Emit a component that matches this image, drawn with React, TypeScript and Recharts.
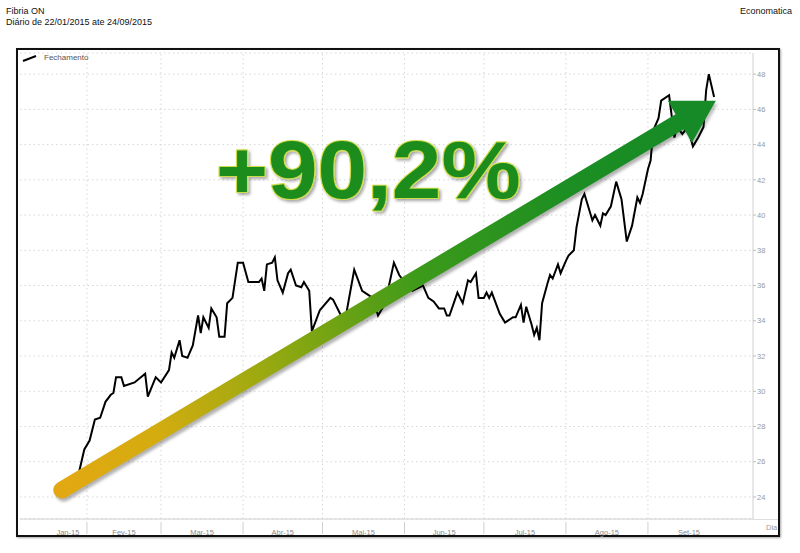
import React from 'react';
import { LineChart, Line, XAxis, YAxis, CartesianGrid, ReferenceLine, Legend } from 'recharts';

// Day of year (2015) and closing price of Fibria ON
const days = [
  22, 27, 29, 31, 33, 35, 37, 39, 41, 42, 43, 45, 46, 50, 54, 55, 58, 60, 63, 64,
  65, 67, 68, 70, 72, 74, 75, 76, 78, 79, 81, 82, 84, 85, 87, 89, 91, 93, 97, 98,
  99, 100, 102, 103, 104, 106, 108, 109, 111, 113, 114, 116, 117, 120, 124, 125, 128, 129, 130, 133,
  136, 138, 140, 142, 144, 146, 148, 150, 151, 155, 159, 161, 163, 165, 167, 168, 169, 172, 174, 176,
  177, 179, 180, 182, 183, 184, 185, 188, 190, 193, 194, 196, 197, 198, 200, 201, 202, 203, 204, 206,
  207, 208, 210, 211, 213, 214, 216, 217, 219, 220, 221, 223, 224, 226, 227, 228, 230, 232, 234, 236,
  238, 240, 241, 242, 244, 245, 246, 248, 249, 252, 254, 255, 257, 259, 261, 263, 265, 266, 267, 269,
];
const closes = [
  24.5, 25.1, 25.4, 26.7, 27.2, 28.4, 28.5, 29.4, 29.8, 29.9, 30.8, 30.8, 30.3, 30.5, 31.0, 29.7, 30.8, 30.5, 31.2, 32.2,
  31.9, 32.9, 32.0, 31.9, 32.6, 34.3, 33.3, 34.2, 33.6, 34.7, 34.2, 33.1, 33.1, 35.0, 35.3, 37.3, 37.3, 36.2, 36.2, 36.4,
  35.7, 37.2, 37.3, 37.6, 36.3, 35.6, 36.7, 36.9, 36.0, 35.9, 36.2, 35.7, 33.4, 34.6, 35.3, 35.2, 34.3, 34.3, 34.4, 36.9,
  35.7, 35.5, 35.3, 34.3, 34.8, 35.9, 37.3, 36.6, 36.4, 35.7, 36.0, 35.3, 35.1, 34.7, 34.7, 34.3, 34.3, 35.6, 35.0, 36.3,
  36.2, 36.7, 35.3, 35.3, 35.6, 35.3, 35.6, 34.4, 33.9, 34.2, 34.2, 34.9, 33.9, 34.8, 33.8, 33.2, 33.6, 32.9, 35.0, 36.1,
  36.6, 36.4, 37.2, 36.7, 37.4, 37.7, 38.0, 39.3, 40.9, 41.2, 40.7, 39.7, 40.0, 39.4, 40.1, 40.0, 40.5, 41.9, 40.9, 38.5,
  39.4, 41.0, 40.7, 41.2, 42.6, 43.1, 44.8, 45.5, 46.5, 46.8, 44.4, 45.0, 44.6, 45.0, 43.9, 44.4, 45.0, 47.1, 48.0, 46.7,
];

const monthStarts = [32, 60, 91, 121, 152, 182, 213, 244];
const monthLabelDays = [24.8, 46, 75.5, 106, 136.5, 167, 197.5, 228.5, 259.5];
const monthLabels = ['Jan-15', 'Fev-15', 'Mar-15', 'Abr-15', 'Mai-15', 'Jun-15', 'Jul-15', 'Ago-15', 'Set-15'];
const yTicks = [24, 26, 28, 30, 32, 34, 36, 38, 40, 42, 44, 46, 48];

const seriesName = 'Fechamento';
const titleLine1 = 'Fibria ON';
const titleLine2 = 'Diário de 22/01/2015 ate 24/09/2015';
const sourceLabel = 'Economatica';
const xAxisName = 'Dia';
const bigLabel = '+90,2%';

// arrow annotation endpoints in data units (day, price)
const arrowFrom = { x: 22.5, y: 24.4 };
const arrowTo = { x: 260.6, y: 45.7 };

const data = days.map((d, i) => ({ day: d, close: closes[i] }));

const FONT = '"Liberation Sans", Arial, sans-serif';

const XTick = (props: any) => {
  const { x, y, payload } = props;
  const v = payload.value;
  if (monthStarts.indexOf(v) >= 0) {
    return <line x1={x} x2={x} y1={y + 3} y2={y + 15} stroke="#cfcfcf" strokeWidth={1} />;
  }
  const li = monthLabelDays.indexOf(v);
  return (
    <text x={x} y={y + 15.5} textAnchor="middle" fontSize={7.5} fill="#8a8a8a" fontFamily={FONT}>
      {monthLabels[li]}
    </text>
  );
};

const ArrowShape = (p: any) => {
  const { x1, y1, x2, y2 } = p;
  if (x1 == null) return null;
  return (
    <g>
      <defs>
        <linearGradient id="shaftGrad" gradientUnits="userSpaceOnUse" x1={x1} y1={y1} x2={x2} y2={y2}>
          <stop offset="0" stopColor="#e2a812" />
          <stop offset="0.15" stopColor="#d4ac10" />
          <stop offset="0.31" stopColor="#9eaa10" />
          <stop offset="0.45" stopColor="#6aa214" />
          <stop offset="0.57" stopColor="#3c9a1a" />
          <stop offset="0.8" stopColor="#1c8e22" />
          <stop offset="1" stopColor="#168a26" />
        </linearGradient>
        <filter id="arrowShadow" x="-20%" y="-20%" width="140%" height="140%">
          <feGaussianBlur stdDeviation="1.8" />
        </filter>
      </defs>
      <line x1={x1 + 2} y1={y1 + 3} x2={x2 + 2} y2={y2 + 3} stroke="rgba(0,0,0,0.3)" strokeWidth={17} strokeLinecap="round" filter="url(#arrowShadow)" />
      <polygon points={`${x2 - 22},${y2 - 11} ${x2 + 26},${y2 - 11} ${x2 + 2},${y2 + 31}`} fill="rgba(0,0,0,0.25)" filter="url(#arrowShadow)" />
      <line x1={x1} y1={y1} x2={x2 - 12} y2={y2 + 7} stroke="url(#shaftGrad)" strokeWidth={17} strokeLinecap="round" />
      <polygon points={`${x2 - 24},${y2 - 14} ${x2 + 24},${y2 - 14} ${x2},${y2 + 28}`} fill="#168a26" />
    </g>
  );
};

const LegendContent = () => (
  <div style={{ display: 'flex', alignItems: 'center', fontFamily: FONT, fontSize: 8, color: '#555' }}>
    <svg width={16} height={8} style={{ marginRight: 6 }}>
      <line x1={1} y1={7} x2={14} y2={2} stroke="#000" strokeWidth={2} />
    </svg>
    <span>{seriesName}</span>
  </div>
);

export default function App() {
  return (
    <div style={{ position: 'absolute', left: 0, top: 0, width: 800, height: 553, background: '#fff', fontFamily: FONT, overflow: 'hidden' }}>
      <div style={{ position: 'absolute', left: 6, top: 6, fontSize: 9, lineHeight: '11px', color: '#111' }}>
        <div>{titleLine1}</div>
        <div>{titleLine2}</div>
      </div>
      <div style={{ position: 'absolute', left: 740, top: 6, fontSize: 9, lineHeight: '11px', color: '#111' }}>{sourceLabel}</div>
      <div style={{ position: 'absolute', left: 16, top: 48, width: 764, height: 489, border: '2px solid #111', boxSizing: 'border-box', boxShadow: '1px 1px 2px rgba(0,0,0,0.35)' }} />
      <div style={{ position: 'absolute', left: 753, top: 519, width: 25, height: 1, background: '#ddd' }} />
      <div style={{ position: 'absolute', left: 766, top: 523, fontSize: 7.5, color: '#999' }}>{xAxisName}</div>
      <div style={{ position: 'absolute', left: 0, top: 0 }}>
        <LineChart width={800} height={553} data={data} margin={{ top: 53, right: 7, bottom: 19, left: 20 }}>
          <CartesianGrid vertical={false} stroke="#d6d6d6" strokeDasharray="1.5 3" />
          {monthStarts.map((m) => (
            <ReferenceLine key={m} x={m} stroke="#d6d6d6" strokeDasharray="1.5 3" />
          ))}
          <XAxis
            dataKey="day"
            type="number"
            domain={[6.7, 283.7]}
            ticks={[...monthStarts, ...monthLabelDays]}
            interval={0}
            tick={<XTick />}
            tickLine={false}
            tickSize={0}
            tickMargin={0}
            axisLine={{ stroke: '#d0d0d0' }}
            height={15}
            allowDataOverflow
          />
          <YAxis
            orientation="right"
            domain={[22.75, 49.2]}
            ticks={yTicks}
            interval={0}
            width={40}
            axisLine={{ stroke: '#d0d0d0' }}
            tickLine={{ stroke: '#bbb' }}
            tickSize={3}
            tickMargin={1}
            tick={{ fontSize: 7.5, fill: '#999', fontFamily: FONT }}
            allowDataOverflow
          />
          <Legend
            layout="horizontal"
            verticalAlign="middle"
            align="center"
            content={<LegendContent />}
            wrapperStyle={{ left: 22, top: 53, width: 120, height: 12 }}
          />
          <Line
            type="linear"
            dataKey="close"
            name={seriesName}
            stroke="#000"
            strokeWidth={2}
            dot={false}
            isAnimationActive={false}
          />
          <ReferenceLine segment={[arrowFrom, arrowTo]} shape={<ArrowShape />} ifOverflow="visible" />
        </LineChart>
      </div>
      <svg width={800} height={553} style={{ position: 'absolute', left: 0, top: 0, pointerEvents: 'none' }}>
        <defs>
          <filter id="txtShadow" x="-10%" y="-10%" width="120%" height="130%">
            <feGaussianBlur in="SourceAlpha" stdDeviation="1.5" />
            <feOffset dx="2" dy="2" result="b" />
            <feComponentTransfer><feFuncA type="linear" slope="0.35" /></feComponentTransfer>
            <feMerge><feMergeNode /><feMergeNode in="SourceGraphic" /></feMerge>
          </filter>
        </defs>
        <g transform="translate(216,198) scale(1.1,1)" filter="url(#txtShadow)">
          <text x={0} y={0} fontFamily={FONT} fontWeight="bold" fontSize={81} fill="#1a8c1a" stroke="#cfdc48" strokeWidth={2.2} paintOrder="stroke" strokeLinejoin="round">
            {bigLabel}
          </text>
        </g>
      </svg>
    </div>
  );
}
